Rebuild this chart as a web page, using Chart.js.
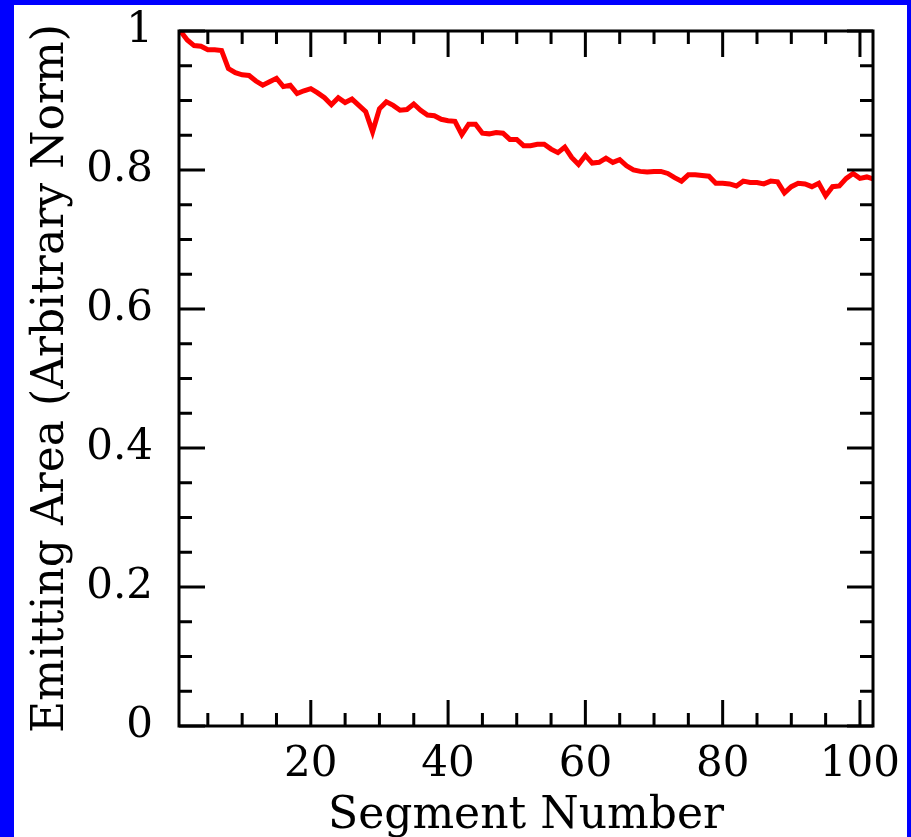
<!DOCTYPE html>
<html>
<head>
<meta charset="utf-8">
<script src="https://cdn.jsdelivr.net/npm/chart.js@4.4.1/dist/chart.umd.min.js"></script>
<style>
  html, body { margin: 0; padding: 0; background: #0000ff; overflow: hidden; }
  #wrap { position: absolute; left: 14px; top: 5px; width: 893px; height: 840px; background: #ffffff; }
</style>
</head>
<body>
<div id="wrap"><canvas id="area"></canvas></div>
<script>
'use strict';

/*------------------------------------*\
     Données
\*------------------------------------*/
var segments = [];
for (var s = 1; s <= 102; s++) { segments.push(s); }

var emittingArea = [
  1.000, 0.987, 0.979, 0.978, 0.973, 0.973, 0.972, 0.946, 0.940, 0.937,
  0.936, 0.928, 0.922, 0.927, 0.932, 0.920, 0.922, 0.910, 0.914, 0.917,
  0.911, 0.904, 0.894, 0.904, 0.897, 0.902, 0.893, 0.884, 0.855, 0.888,
  0.898, 0.893, 0.886, 0.887, 0.895, 0.886, 0.879, 0.878, 0.873, 0.871,
  0.870, 0.851, 0.866, 0.866, 0.853, 0.852, 0.854, 0.853, 0.844, 0.844,
  0.835, 0.835, 0.837, 0.837, 0.830, 0.825, 0.833, 0.818, 0.808, 0.821,
  0.810, 0.811, 0.817, 0.811, 0.815, 0.806, 0.800, 0.798, 0.797, 0.798,
  0.798, 0.795, 0.789, 0.784, 0.793, 0.793, 0.792, 0.791, 0.781, 0.781,
  0.780, 0.777, 0.784, 0.782, 0.782, 0.780, 0.784, 0.783, 0.767, 0.776,
  0.781, 0.780, 0.776, 0.781, 0.763, 0.776, 0.777, 0.788, 0.795, 0.788,
  0.790, 0.787
];

var xTickLabels = ['20', '40', '60', '80', '100'];
var yTickLabels = ['0', '0.2', '0.4', '0.6', '0.8', '1'];

var TICK_FONT = { family: "'DejaVu Serif', serif", size: 42 };
var TITLE_FONT = { family: "'DejaVu Serif', serif", size: 44, lineHeight: 1 };

/*------------------------------------*\
     Cadre + graduations vers l'intérieur
\*------------------------------------*/
var innerTicks = {
  id: 'innerTicks',
  afterDatasetsDraw: function(chart) {
    var ctx = chart.ctx;
    var a = chart.chartArea;
    var xs = chart.scales.x;
    var ys = chart.scales.y;
    ctx.save();
    ctx.strokeStyle = '#000';
    ctx.lineWidth = 3;
    ctx.lineCap = 'butt';
    ctx.beginPath();
    xs.ticks.forEach(function(t) {
      var px = xs.getPixelForValue(t.value);
      var len = (t.value % 20 === 0) ? 26 : 13;
      ctx.moveTo(px, a.bottom); ctx.lineTo(px, a.bottom - len);
      ctx.moveTo(px, a.top); ctx.lineTo(px, a.top + len);
    });
    ys.ticks.forEach(function(t) {
      var k = Math.round(t.value * 100);
      var py = ys.getPixelForValue(k / 100);
      var len = (k % 20 === 0) ? 26 : 13;
      ctx.moveTo(a.left, py); ctx.lineTo(a.left + len, py);
      ctx.moveTo(a.right, py); ctx.lineTo(a.right - len, py);
    });
    ctx.stroke();
    ctx.strokeRect(a.left, a.top, a.right - a.left, a.bottom - a.top);
    ctx.restore();
  }
};

var chart = new Chart(document.getElementById('area').getContext('2d'), {
  type: 'line',
  data: {
    labels: segments,
    datasets: [{
      data: emittingArea,
      borderColor: '#ff0000',
      borderWidth: 5,
      pointRadius: 0,
      tension: 0,
      fill: false
    }]
  },
  options: {
    responsive: true,
    maintainAspectRatio: false,
    animation: false,
    events: [],
    layout: { padding: { top: 26, right: 34, left: 0, bottom: 0 } },
    plugins: { legend: { display: false }, tooltip: { enabled: false } },
    scales: {
      x: {
        type: 'linear',
        min: 0.8,
        max: 101.9,
        grid: { display: false },
        border: { display: false },
        ticks: {
          autoSkip: false,
          maxRotation: 0,
          padding: 6,
          color: '#000',
          font: TICK_FONT,
          callback: function(v) {
            var lbl = String(v);
            return xTickLabels.indexOf(lbl) >= 0 ? lbl : '';
          }
        },
        // graduations tous les 5 segments
        afterBuildTicks: function(scale) {
          var t = [];
          for (var v = 5; v <= 100; v += 5) { t.push({ value: v }); }
          scale.ticks = t;
        },
        title: {
          display: true,
          text: 'Segment Number',
          color: '#000',
          font: TITLE_FONT,
          padding: { top: 0, bottom: 6 }
        },
        afterFit: function(scale) {
          scale.height = 119;
          scale.paddingLeft = 0;
          scale.paddingRight = 0;
        }
      },
      y: {
        min: 0,
        max: 1,
        grid: { display: false },
        border: { display: false },
        ticks: {
          stepSize: 0.05,
          autoSkip: false,
          padding: 18,
          color: '#000',
          font: TICK_FONT,
          callback: function(v) {
            var lbl = String(Math.round(v * 100) / 100);
            return yTickLabels.indexOf(lbl) >= 0 ? lbl : '';
          }
        },
        title: {
          display: true,
          text: 'Emitting Area (Arbitrary Norm)',
          color: '#000',
          font: TITLE_FONT,
          padding: { top: 16, bottom: 0 }
        },
        afterFit: function(scale) {
          scale.width = 165;
          scale.paddingTop = 0;
          scale.paddingBottom = 0;
        }
      }
    }
  },
  plugins: [innerTicks]
});
</script>
</body>
</html>
